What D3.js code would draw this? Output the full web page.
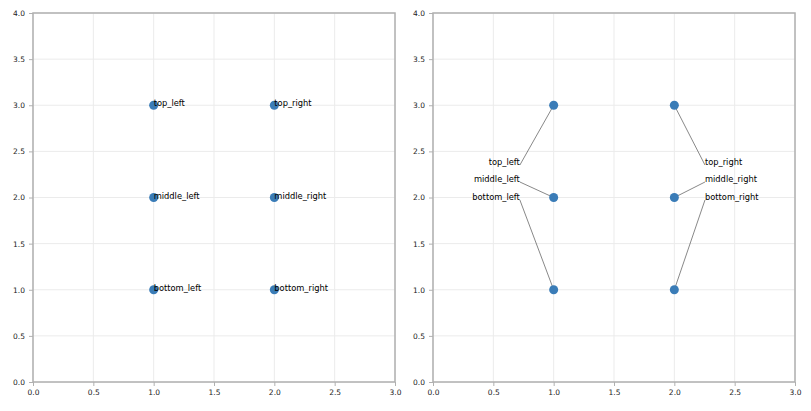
<!DOCTYPE html>
<html><head><meta charset="utf-8">
<script src="https://cdn.jsdelivr.net/npm/d3@7"></script>
<style>body{margin:0;background:#fff}svg{display:block}</style>
</head><body>
<script>
const labels = ["top_left","top_right","middle_left","middle_right","bottom_left","bottom_right"];
const xs = [1,2,1,2,1,2];
const ys = [3,3,2,2,1,1];
// adjusted label positions (right panel)
const adjX = [0.72,2.254,0.72,2.254,0.72,2.254];
const adjY = [2.352,2.352,2.168,2.168,1.973,1.973];
const adjAnchor = ["end","start","end","start","end","start"];
const xTicks = [0,0.5,1,1.5,2,2.5,3];
const yTicks = [0,0.5,1,1.5,2,2.5,3,3.5,4];

const W=811,H=411;
const svg=d3.select("body").append("svg").attr("width",W).attr("height",H);
const panels=[{x0:33,x1:395,adjusted:false},{x0:433,x1:795,adjusted:true}];
const plotTop=13,plotBottom=382;
const font="DejaVu Sans, sans-serif";

panels.forEach(p=>{
  const x=d3.scaleLinear().domain([0,3]).range([p.x0,p.x1]);
  const y=d3.scaleLinear().domain([0,4]).range([plotBottom,plotTop]);
  const g=svg.append("g");
  // grid
  g.selectAll(".gx").data(xTicks).join("line").attr("x1",d=>x(d)).attr("x2",d=>x(d))
    .attr("y1",plotTop).attr("y2",plotBottom).attr("stroke","#ebebeb").attr("stroke-width",1);
  g.selectAll(".gy").data(yTicks).join("line").attr("y1",d=>y(d)).attr("y2",d=>y(d))
    .attr("x1",p.x0).attr("x2",p.x1).attr("stroke","#ebebeb").attr("stroke-width",1);
  // axes
  const ax=g.append("g").attr("transform",`translate(0,${plotBottom})`)
    .call(d3.axisBottom(x).tickValues(xTicks).tickFormat(d3.format(".1f")).tickSize(4).tickPadding(4));
  const ay=g.append("g").attr("transform",`translate(${p.x0},0)`)
    .call(d3.axisLeft(y).tickValues(yTicks).tickFormat(d3.format(".1f")).tickSize(4).tickPadding(4));
  [ax,ay].forEach(a=>{
    a.select(".domain").remove();
    a.selectAll("line").attr("stroke","#b0b0b0");
    a.selectAll("text").attr("font-family",font).attr("font-size",7.5).attr("fill","#222");
  });
  // frame
  g.append("rect").attr("x",p.x0).attr("y",plotTop).attr("width",p.x1-p.x0).attr("height",plotBottom-plotTop)
    .attr("fill","none").attr("stroke","#b0b0b0").attr("stroke-width",1.5);
  const idx=d3.range(labels.length);
  if(p.adjusted){
    g.selectAll(".conn").data(idx).join("line")
      .attr("x1",i=>x(xs[i])).attr("y1",i=>y(ys[i]))
      .attr("x2",i=>x(adjX[i])).attr("y2",i=>y(adjY[i]))
      .attr("stroke","#555").attr("stroke-width",0.7);
  }
  g.selectAll(".pt").data(idx).join("circle")
    .attr("cx",i=>x(xs[i])).attr("cy",i=>y(ys[i])).attr("r",4.5).attr("fill","#3a7cb7");
  g.selectAll(".lb").data(idx).join("text")
    .attr("x",i=>p.adjusted?x(adjX[i]):x(xs[i]))
    .attr("y",i=>p.adjusted?y(adjY[i]):y(ys[i])+1)
    .attr("text-anchor",i=>p.adjusted?adjAnchor[i]:"start")
    .attr("font-family",font).attr("font-size",8.3).attr("fill","#000")
    .text(i=>labels[i]);
});
</script>
</body></html>
